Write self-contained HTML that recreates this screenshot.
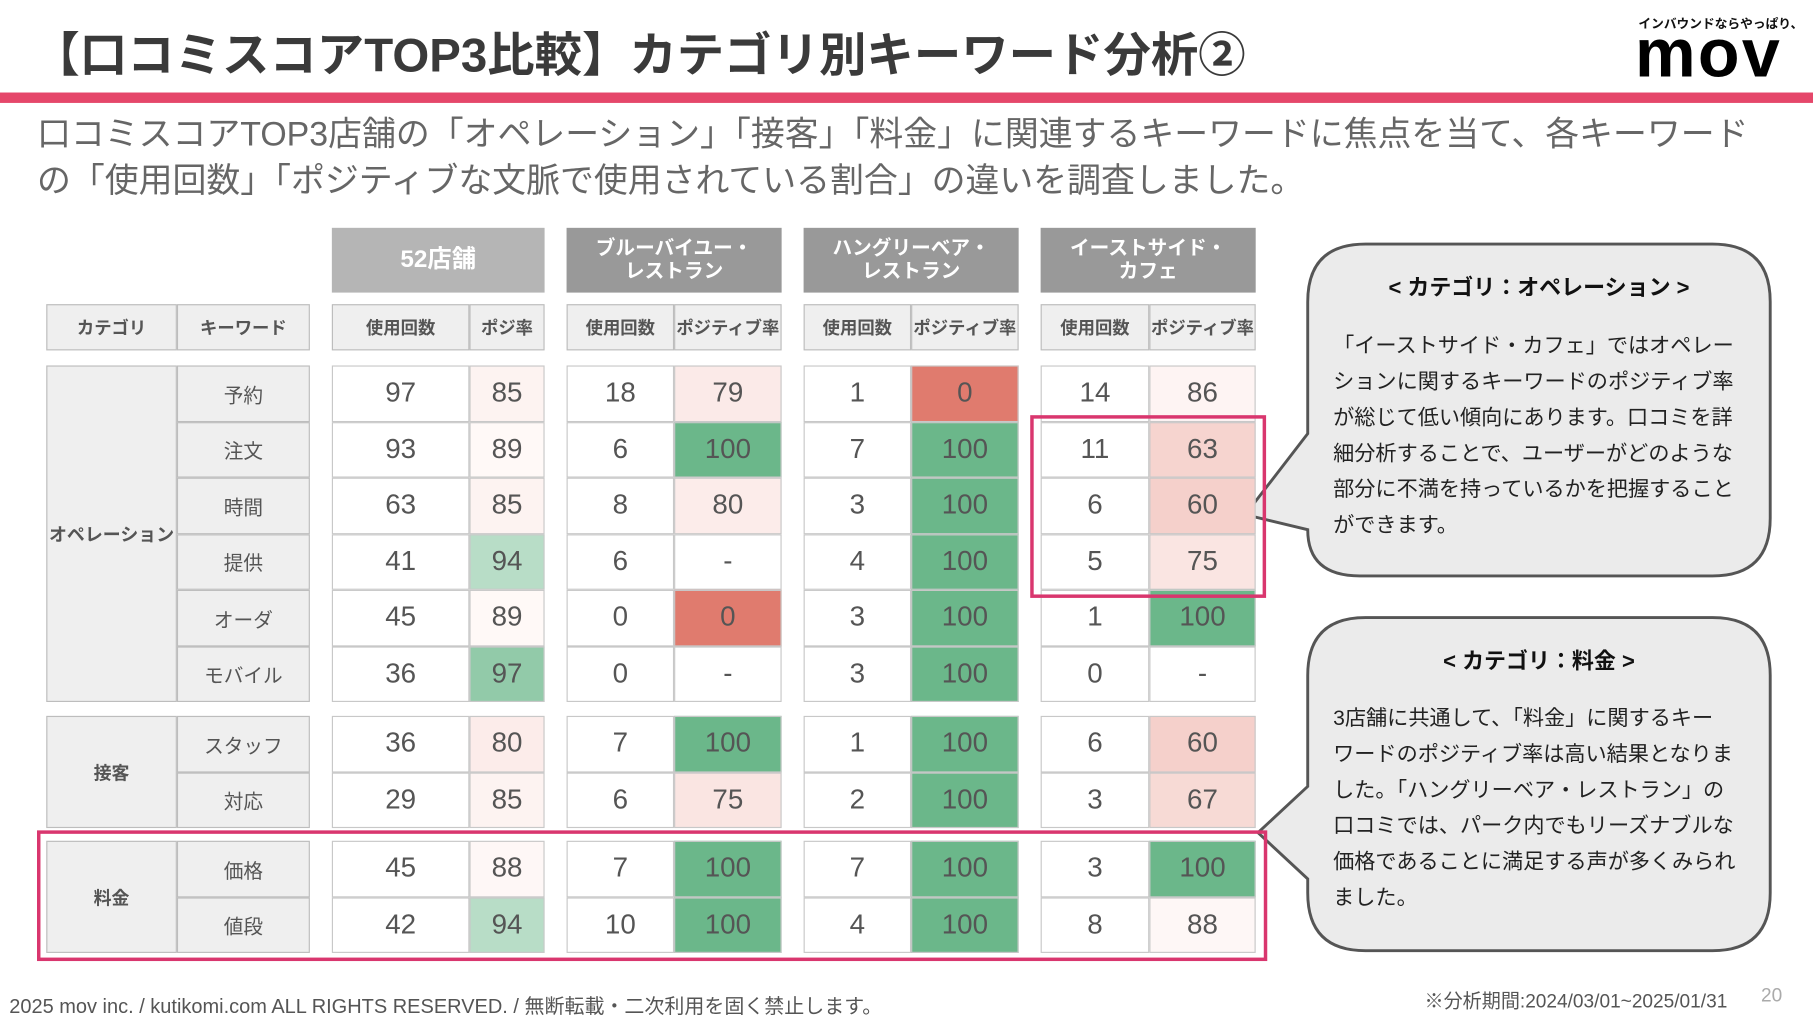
<!DOCTYPE html>
<html><head><meta charset="utf-8">
<style>
html,body{margin:0;padding:0;background:#fff;}
body{width:1813px;height:1020px;overflow:hidden;font-family:"Liberation Sans","Noto Sans CJK JP",sans-serif;}
#stage{position:absolute;left:0;top:0;width:1568px;height:882px;transform:scale(1.15625,1.1565);transform-origin:0 0;}
.a{position:absolute;box-sizing:border-box;}
.cell{display:flex;align-items:center;justify-content:center;border:1px solid #c8c8c8;white-space:nowrap;}
.num{font-size:24px;color:#555;}
.sub{font-size:15px;color:#555;font-weight:bold;background:#efefef;border:1px solid #bdbdbd;}
.hdr{color:#fff;font-weight:bold;font-size:17px;line-height:20px;text-align:center;}
.lab{font-size:17px;color:#555;background:#efefef;border:1px solid #bdbdbd;font-weight:bold;}
.ct{font-size:18.3px;color:#222;line-height:31px;}
</style></head><body>
<div id="stage">
<div class="a" style="left:28px;top:14px;font-size:41px;font-weight:bold;color:#3a3a3a;white-space:nowrap;">【口コミスコアTOP3比較】カテゴリ別キーワード分析②</div>
<div class="a" style="left:1417px;top:12px;font-size:11px;font-weight:bold;color:#111;white-space:nowrap;">インバウンドならやっぱり、</div>
<div class="a" style="left:1414px;top:16px;font-size:59px;font-weight:bold;color:#000;letter-spacing:2px;line-height:60px;">mov</div>
<div class="a" style="left:0;top:80px;width:1568px;height:9px;background:#e5476a;"></div>
<div class="a" style="left:32px;top:97px;font-size:29.3px;color:#666;line-height:40px;white-space:nowrap;">口コミスコアTOP3店舗の「オペレーション」「接客」「料金」に関連するキーワードに焦点を当て、各キーワード<br>の「使用回数」「ポジティブな文脈で使用されている割合」の違いを調査しました。</div>

<svg class="a" style="left:0;top:0" width="1568" height="882">
<path d="M1181,211 H1481 Q1531,211 1531,261 V448 Q1531,498 1481,498 H1176 Q1131,498 1131,458 L1077,445 L1131,375 V261 Q1131,211 1181,211 Z" fill="#ebebeb" stroke="#555" stroke-width="2.5"/>
<path d="M1181,534 H1481 Q1531,534 1531,584 V772 Q1531,822 1481,822 H1181 Q1131,822 1131,772 V760 L1088,720 L1131,680 V584 Q1131,534 1181,534 Z" fill="#ebebeb" stroke="#555" stroke-width="2.5"/>
</svg>
<div class="a" style="left:1131px;top:234px;width:400px;text-align:center;font-size:19px;font-weight:bold;color:#111;">&lt; カテゴリ：オペレーション &gt;</div>
<div class="a ct" style="left:1153px;top:283px;white-space:nowrap;">「イーストサイド・カフェ」ではオペレー<br>ションに関するキーワードのポジティブ率<br>が総じて低い傾向にあります。口コミを詳<br>細分析することで、ユーザーがどのような<br>部分に不満を持っているかを把握すること<br>ができます。</div>
<div class="a" style="left:1131px;top:557px;width:400px;text-align:center;font-size:19px;font-weight:bold;color:#111;">&lt; カテゴリ：料金 &gt;</div>
<div class="a ct" style="left:1153px;top:605px;white-space:nowrap;">3店舗に共通して、「料金」に関するキー<br>ワードのポジティブ率は高い結果となりま<br>した。「ハングリーベア・レストラン」の<br>口コミでは、パーク内でもリーズナブルな<br>価格であることに満足する声が多くみられ<br>ました。</div>

<div id="table"></div>

<div class="a" style="left:8px;top:856px;font-size:17.3px;color:#555;white-space:nowrap;">2025 mov inc. / kutikomi.com ALL RIGHTS RESERVED. / 無断転載・二次利用を固く禁止します。</div>
<div class="a" style="left:1232px;top:852px;font-size:16.5px;color:#555;white-space:nowrap;">※分析期間:2024/03/01~2025/01/31</div>
<div class="a" style="left:1523px;top:852px;font-size:16.5px;color:#aaa;">20</div>
</div>
<script>
const keywords = ["予約","注文","時間","提供","オーダ","モバイル","スタッフ","対応","価格","値段"];
const categories = ["オペレーション","接客","料金"];
const categorySizes = [6,2,2];
const storeNames = ["52店舗","ブルーバイユー・<br>レストラン","ハングリーベア・<br>レストラン","イーストサイド・<br>カフェ"];
const rateLabels = ["ポジ率","ポジティブ率","ポジティブ率","ポジティブ率"];
const counts52 = [97,93,63,41,45,36,36,29,45,42];
const rates52 = [85,89,85,94,89,97,80,85,88,94];
const countsBlue = [18,6,8,6,0,0,7,6,7,10];
const ratesBlue = [79,100,80,null,0,null,100,75,100,100];
const countsHungry = [1,7,3,4,3,3,1,2,7,4];
const ratesHungry = [0,100,100,100,100,100,100,100,100,100];
const countsEast = [14,11,6,5,1,0,6,3,3,8];
const ratesEast = [86,63,60,75,100,null,60,67,100,88];

const storeCounts=[counts52,countsBlue,countsHungry,countsEast];
const storeRates=[rates52,ratesBlue,ratesHungry,ratesEast];
const groupX=[[287,406,471],[490,583,676],[695,788,881],[900,994,1086]];
const hdrColors=['#b5b5b5','#999','#999','#999'];
const blockTop=[316,619,727], rowH=48.5;
const stage=document.getElementById('table');
function mix(a,b,t){return 'rgb('+a.map((v,i)=>Math.round(v+(b[i]-v)*t)).join(',')+')';}
function rateColor(v){
  if(v===null) return '#fff';
  if(v>=90){const t=(v-90)/10;return mix([236,247,240],[107,183,138],t);}
  const t=(90-v)/90;return mix([255,250,249],[224,123,110],t);
}
function box(cls,x,y,w,h,html,style){
  const d=document.createElement('div');
  d.className='a '+cls;
  d.style.left=x+'px';d.style.top=y+'px';d.style.width=w+'px';d.style.height=h+'px';
  if(style) d.style.cssText+=style;
  d.innerHTML=html;stage.appendChild(d);return d;
}
function rowY(i){let idx=i,b=0;while(idx>=categorySizes[b]){idx-=categorySizes[b];b++;}return [b,blockTop[b]+idx*rowH];}
let e=box('cell sub',40,263,113,40,'カテゴリ');


e=box('cell sub',153,263,115,40,'キーワード');


categories.forEach((c,b)=>{
  const h=categorySizes[b]*rowH;
  const d=box('cell lab',40,blockTop[b],113,h,c,'font-size:15.5px;');
  
  
});
keywords.forEach((k,i)=>{
  const [b,y]=rowY(i);
  const d=box('cell lab',153,y,115,rowH,k,'font-weight:normal;');
  
  
});
storeNames.forEach((n,s)=>{
  const [x0,x1,x2]=groupX[s];
  const h=box('cell hdr',x0,197,x2-x0,56,n,'background:'+hdrColors[s]+';border:none;'+(s===0?'font-size:21px;':''));
  
  
  let c=box('cell sub',x0,263,x1-x0,40,'使用回数');
  
  
  c=box('cell sub',x1,263,x2-x1,40,rateLabels[s]);
  
  
  keywords.forEach((k,i)=>{
    const [b,y]=rowY(i);
    const cv=storeCounts[s][i], rv=storeRates[s][i];
    let d=box('cell num',x0,y,x1-x0,rowH,String(cv),'background:#fff;');
    
    
    d=box('cell num',x1,y,x2-x1,rowH,rv===null?'-':String(rv),'background:'+rateColor(rv)+';');
    
    
  });
});
let hl=box('',891,359,204,158,'','border:3px solid #d9366e;');


hl=box('',32,718,1064,113,'','border:3px solid #d9366e;');


</script>
</body></html>
